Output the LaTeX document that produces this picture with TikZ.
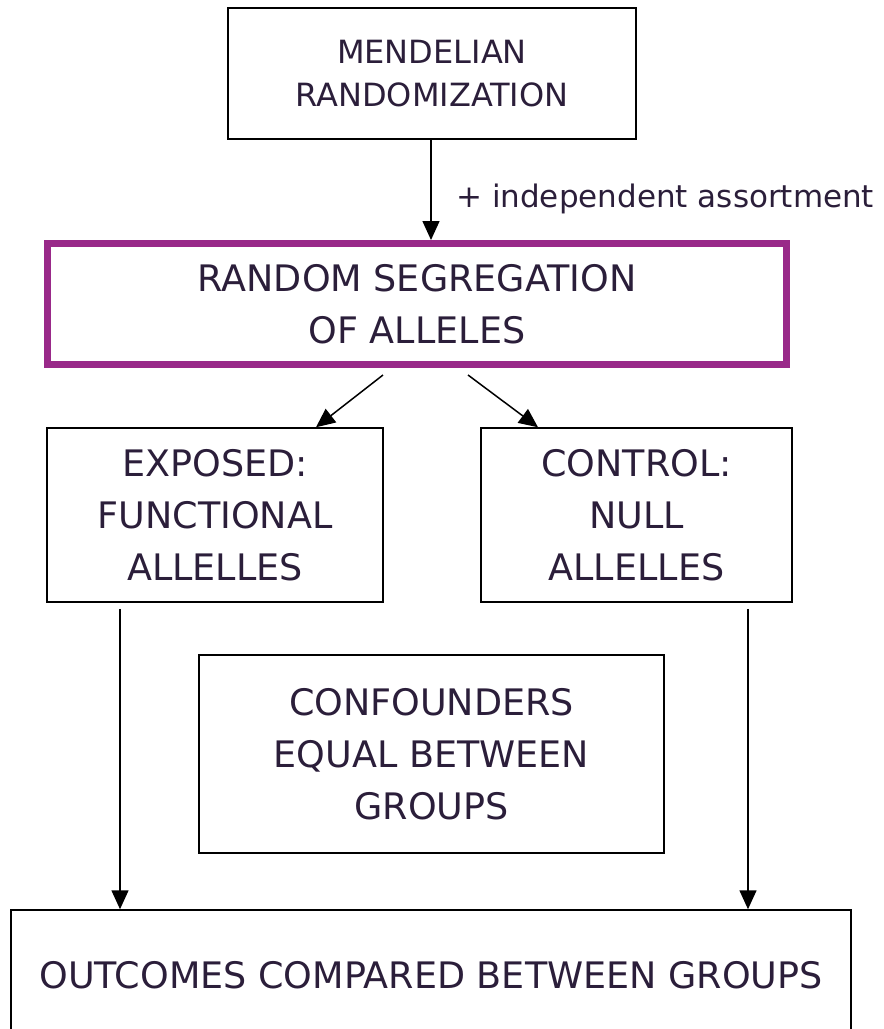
\documentclass[tikz,border=0pt]{standalone}
\usepackage{fontspec}
\setmainfont{DejaVu Sans}
\usetikzlibrary{arrows.meta}
\definecolor{ink}{RGB}{43,30,58}
\definecolor{plum}{RGB}{153,41,137}
\begin{document}
\begin{tikzpicture}[x=1pt,y=-1pt,
  box/.style={draw=black, line width=1.5pt, inner sep=0pt, align=center,
    text=ink, font=\fontsize{36.5}{52}\selectfont},
  keybox/.style={box, draw=plum, line width=7pt},
  flow/.style={draw=black, line width=1.5pt, -{Triangle[length=19pt,width=17pt]}}]
\useasboundingbox (0,0) rectangle (884,1029);
\clip (0,0) rectangle (884,1029);

% boxes
\node[box, minimum width=408pt, minimum height=131pt,
  font=\fontsize{32}{43}\selectfont] (mend) at (432,73.5)
  {MENDELIAN\\RANDOMIZATION};
\node[keybox, minimum width=739pt, minimum height=121pt] (seg) at (417,304)
  {RANDOM SEGREGATION\\OF ALLELES};
\node[box, minimum width=336pt, minimum height=174pt] (exp) at (215,515)
  {EXPOSED:\\FUNCTIONAL\\ALLELLES};
\node[box, minimum width=311pt, minimum height=174pt] (ctl) at (636.5,515)
  {CONTROL:\\NULL\\ALLELLES};
\node[box, minimum width=465pt, minimum height=198pt] (conf) at (431.5,754)
  {CONFOUNDERS\\EQUAL BETWEEN\\GROUPS};
\node[box, minimum width=840pt, minimum height=130pt] (out) at (431,975)
  {OUTCOMES COMPARED BETWEEN GROUPS};

% label on the first arrow
\node[anchor=base west, inner sep=0pt, text=ink,
  font=\fontsize{31}{36}\selectfont] (indep) at (456,207)
  {+ independent assortment};

% connectors
\draw[flow] ([xshift=-1pt]mend.south) -- ([xshift=-1pt]mend.south |- seg.north);
\draw[flow] ([xshift=-34pt,yshift=-7pt]seg.south) -- ([xshift=101pt]exp.north);
\draw[flow] ([xshift=51pt,yshift=-7pt]seg.south) -- ([xshift=-98.5pt]ctl.north);
\draw[flow] ([xshift=-95pt,yshift=-6pt]exp.south) -- ([xshift=-311pt]out.north);
\draw[flow] ([xshift=111.5pt,yshift=-6pt]ctl.south) -- ([xshift=317pt]out.north);
\end{tikzpicture}
\end{document}
